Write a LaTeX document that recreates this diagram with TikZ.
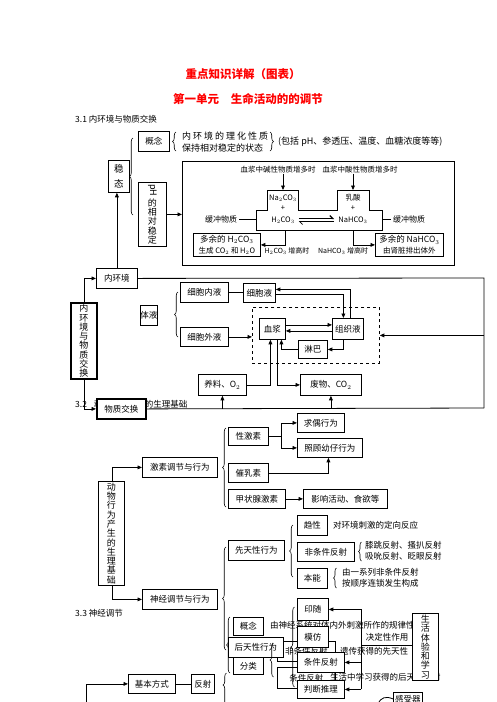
\documentclass[tikz,border=0pt]{standalone}
\usepackage{fontspec}
\usepackage{graphicx}
\setmainfont{Noto Sans CJK SC}
\usetikzlibrary{arrows.meta,decorations.pathreplacing,calc}
\newcommand\myfs[1]{\fontsize{#1}{#1}\selectfont}
\newcommand\gp{\hspace{2pt}}
\newcommand\mybox[7][]{\node[bx,#1,anchor=north west,minimum width={#5-#3},minimum height={#6-#4}] (#2) at (#3,#4) {#7};}
\begin{document}
\begin{tikzpicture}[x=1pt,y=-1pt,
  every node/.style={inner sep=0pt, font=\myfs{8.5}},
  bx/.style={draw, line width=0.8pt, fill=white, align=center},
  thk/.style={line width=1.8pt},
  ln/.style={line width=0.8pt},
  arr/.style={line width=0.8pt, -{Triangle[length=4.5pt,width=3.8pt]}},
  brc/.style={line width=0.6pt, decorate, decoration={brace, amplitude=3.5pt}},
  vtx/.style={font=\fontsize{9}{9.3}\selectfont},
  sm/.style={font=\myfs{7.5}},
]
\useasboundingbox (0,0) rectangle (496,702);
% titles
\node[font=\bfseries\myfs{11.5}, text=red] (t1) at (243,74) {重点知识详解（图表）};
\node[font=\bfseries\myfs{11.5}, text=red] (t2) at (248,99) {第一单元\hspace{12pt}生命活动的的调节};
\node[anchor=west] (h31) at (75,119) {3.1 内环境与物质交换};
% 3.1 top
\mybox{gn}{138}{131}{169}{151}{概念}
\draw[brc] (176,151) -- (176,132);
\node[anchor=west, font=\myfs{9}] (g1) at (182,136) {内\gp 环\gp 境\gp 的\gp 理\gp 化\gp 性\gp 质};
\node[anchor=west, font=\myfs{9}] (g2) at (182,148) {保持相对稳定的状态};
\draw[brc] (270,132) -- (270,151);
\node[anchor=west, font=\myfs{9}] (g3) at (278,142) {(包括 pH、参透压、温度、血糖浓度等等)};
\mybox[font=\fontsize{9.5}{15}\selectfont]{wt}{108}{160}{129}{192}{稳\\态}
\draw[brc] (133,215) -- (133,138);
\mybox[font=\fontsize{9}{9.4}\selectfont]{ph}{138}{182}{166}{246}{\rotatebox{-90}{pH}\\[1pt]的\\相\\对\\稳\\定}
\mybox{bigb}{182}{161}{454}{265}{}
\draw[arr] (ph.east) -- (ph.east -| bigb.west);
\node[sm] (c1) at (278,170) {血浆中碱性物质增多时};
\node[sm] (c2) at (360,170) {血浆中酸性物质增多时};
\draw[ln] (256,210) -- (267,210) -- (267,190) -- (298,190) -- (298,210) -- (337,210) -- (337,190) -- (369,190) -- (369,210) -- (382,210) -- (382,230) -- (256,230) -- cycle;
\coordinate (bl) at (283,190);
\coordinate (br) at (353,190);
\draw[arr] (c1.south -| bl) -- (bl);
\draw[arr] (c2.south -| br) -- (br);
\node[sm] (na) at (283,198) {Na$_2$CO$_3$};
\node[sm] (p1) at (283,208) {+};
\node[sm] (h2) at (283,220) {H$_2$CO$_3$};
\node[sm] (ru) at (353,198) {乳酸};
\node[sm] (p2) at (353,208) {+};
\node[sm] (nh) at (353,220) {NaHCO$_3$};
\draw[line width=1.2pt, -{Straight Barb[harpoon, length=3pt, width=6pt]}] ($(h2.east)+(4,-1.5)$) -- ($(nh.west)+(-4,-1.5)$);
\draw[line width=0.6pt, -{Straight Barb[harpoon, length=3pt, width=6pt]}] ($(nh.west)+(-4,1.5)$) -- ($(h2.east)+(4,1.5)$);
\node[font=\myfs{8}] (hc1) at (221,219) {缓冲物质};
\node[font=\myfs{8}] (hc2) at (409,219) {缓冲物质};
\coordinate (pl) at (256,219);
\coordinate (pr) at (382,219);
\draw[ln] ($(hc1.east)+(2,0)$) -- (pl);
\draw[ln] (pr) -- ($(hc2.west)+(-2,0)$);
\mybox{lb1}{193}{233}{260}{256}{{\myfs{8.5}多余的 H$_2$CO$_3$}\\[2pt]{\myfs{7.5}生成 CO$_2$ 和 H$_2$O}}
\mybox{lb2}{375}{233}{443}{256}{{\myfs{8.5}多余的 NaHCO$_3$}\\[2pt]{\myfs{7.5}由肾脏排出体外}}
\coordinate (pb1) at (285,230);
\coordinate (pb2) at (353,230);
\draw[arr] (pb1) |- (lb1.east);
\draw[arr] (pb2) |- (lb2.west);
\node[font=\myfs{7}] (lab1) at (287,251) {H$_2$CO$_3$ 增高时};
\node[font=\myfs{7}] (lab2) at (343,251) {NaHCO$_3$ 增高时};
% 3.1 middle
\mybox{nhj}{96}{268}{137}{288}{内环境}
\draw[arr] (nhj.north) -- (nhj.north |- wt.south);
\coordinate (rc1) at (484,278);
\coordinate (rc2) at (484,408);
\draw[ln] (nhj.east) -- (rc1) -- (rc2);
\mybox[thk, vtx]{nhwz}{70}{302}{96}{378}{内\\环\\境\\与\\物\\质\\交\\换}
\draw[arr] (nhwz.north) |- (nhj.west);
\node[anchor=west] (h32) at (75,404) {3.2\hspace{7pt}动物行为产生的生理基础};
\mybox[thk]{wzjh}{96}{398}{145}{418}{物质交换}
\draw[arr] (nhwz.south) |- (wzjh.west);
\draw[ln] (wzjh.east) -- (rc2);
\mybox{tiye}{140}{305}{157}{325}{体液}
\draw[brc] (178,337) -- (178,292);
\mybox{xbn}{180}{282}{228}{302}{细胞内液}
\mybox{xbw}{180}{327}{228}{346}{细胞外液}
\mybox{xby}{243}{283}{275}{302}{细胞液}
\draw[ln] (xbn.east) -- (xbn.east -| xby.west);
\node[draw, dashed, line width=0.8pt, minimum width=127, minimum height=56, anchor=north west] (dsh) at (252,307) {};
\draw[arr] (xbw.east) -- (xbw.east -| dsh.west);
\draw[arr] (rc1 |- dsh.east) -- (dsh.east);
\mybox{xj}{259}{318}{285}{339}{血浆}
\mybox{zzy}{332}{318}{363}{339}{组织液}
\mybox{lb}{298}{340}{327}{358}{淋巴}
\draw[arr] ($(xj.east)+(0,-4)$) -- ($(zzy.west)+(0,-4)$);
\draw[arr] ($(zzy.west)+(0,2)$) -- ($(xj.east)+(0,2)$);
\draw[arr] ($(zzy.south)+(-5,0)$) |- (lb.east);
\draw[arr] (lb.west) -| ($(xj.south)+(9,0)$);
\draw[arr] ($(zzy.north)+(2.5,0)$) |- ($(xby.east)+(0,-3.5)$);
\draw[arr] ($(xby.east)+(0,1.5)$) -| ($(zzy.north)+(-4.5,0)$);
\mybox{yl}{198}{374}{246}{395}{养料、O$_2$}
\mybox{fw}{300}{374}{361}{395}{废物、CO$_2$}
\draw[arr] (yl.east) -| ($(xj.south)+(-2,0)$);
\draw[arr] ($(xj.south)+(5,0)$) |- (fw.west);
\draw[arr] (yl.south |- wzjh.east) -- (yl.south);
\draw[arr] (fw.south |- wzjh.east) -- (fw.south);
% 3.2
\mybox[vtx]{dwjc}{98}{481}{124}{585}{动\\物\\行\\为\\产\\生\\的\\生\\理\\基\\础}
\mybox{jstj}{142}{457}{217}{477}{激素调节与行为}
\draw[arr] ($(dwjc.north)+(1,0)$) |- (jstj.west);
\draw[brc] (226,507) -- (226,428);
\mybox{xjs}{228}{427}{268}{445}{性激素}
\mybox{crs}{228}{463}{268}{482}{催乳素}
\mybox{jzx}{228}{489}{285}{508}{甲状腺激素}
\mybox{qo}{297}{413}{344}{432}{求偶行为}
\mybox{zg}{297}{438}{362}{457}{照顾幼仔行为}
\mybox{yx}{303}{489}{387}{508}{影响活动、食欲等}
\draw[ln] (xjs.east) -- ++(13,0) coordinate (br1);
\draw[arr] (br1) |- (qo.west);
\draw[arr] (br1) |- (zg.west);
\draw[arr] (crs.east) -| ($(zg.south)+(-1.5,0)$);
\draw[arr] (jzx.east) -- (jzx.east -| yx.west);
\mybox{sjtj}{142}{589}{217}{609}{神经调节与行为}
\draw[arr] ($(dwjc.south)+(1,0)$) |- (sjtj.west);
\draw[brc] (226,650) -- (226,547);
\mybox{xtx}{228}{540}{284}{560}{先天性行为}
\draw[brc] (293,577) -- (293,525);
\mybox{qx}{297}{515}{327}{535}{趋性}
\node[anchor=west] (qxt) at (333,525) {对环境刺激的定向反应};
\mybox{ftj}{297}{542}{354}{561}{非条件反射}
\draw[brc, decoration={brace, amplitude=3pt}] (361.5,561) -- (361.5,542);
\node[anchor=west] (ft1) at (365,545) {膝跳反射、搔扒反射};
\node[anchor=west] (ft2) at (365,556) {吸吮反射、眨眼反射};
\mybox{bn}{297}{568}{327}{588}{本能}
\draw[brc, decoration={brace, amplitude=3pt}] (336.5,588) -- (336.5,568);
\node[anchor=west] (bn1) at (342,572) {由一系列非条件反射};
\node[anchor=west] (bn2) at (342,583) {按顺序连锁发生构成};
% 3.3
\node[anchor=west] (h33) at (75,613) {3.3 神经调节};
\node[anchor=west] (gnt) at (270,625) {由神经系统对体内外刺激所作的规律性};
\mybox{ftj2}{277}{641}{335}{661}{非条件反射}
\node[anchor=west] (ftjt) at (340,651) {遗传获得的先天性};
\mybox{tjf2}{277}{667}{335}{688}{条件反射}
\node[anchor=west] (tjft) at (330,677) {生活中学习获得的后天性反射};
\draw[brc] (230,673) -- (230,617);
\mybox{gn2}{233}{617}{263}{635}{概念}
\mybox{fl}{233}{657}{263}{674}{分类}
\mybox{htx}{228}{637}{283}{657}{后天性行为}
\draw[brc] (273.5,677) -- (273.5,643);
\draw[brc] (294.5,687) -- (294.5,607);
\mybox{yins}{297}{598}{328}{620}{印随}
\mybox{mf}{297}{626}{328}{647}{模仿}
\mybox{tjfs}{297}{652}{344}{672}{条件反射}
\mybox{pdtl}{297}{680}{344}{698}{判断推理}
\mybox[vtx]{shty}{412}{613}{438}{680}{生\\活\\体\\验\\和\\学\\习}
\coordinate (vt) at (361,609);
\draw[ln] (vt) -- (vt |- pdtl.east);
\draw[arr] (yins.east -| vt) -- (yins.east);
\draw[arr] (tjfs.east -| vt) -- (tjfs.east);
\draw[arr] (pdtl.east -| vt) -- (pdtl.east);
\draw[ln] (shty.west |- 0,645) -- (vt |- 0,645);
\node (jdx) at (387,637) {决定性作用};
\mybox{gsq}{393}{692}{422}{705}{感受器}
\draw[ln] (378,704) .. controls (381,697) and (386,696) .. (gsq.west);
\mybox{jbfs}{128}{674}{175}{693}{基本方式}
\mybox{fs}{191}{674}{214}{693}{反射}
\coordinate (ls) at (86,704);
\draw[arr] (ls) |- (jbfs.west);
\draw[ln] (jbfs.east) -- (fs.west);
\draw[brc, decoration={brace, amplitude=3.5pt, aspect=0.72}] (226.5,716) -- (226.5,673);
\end{tikzpicture}
\end{document}
